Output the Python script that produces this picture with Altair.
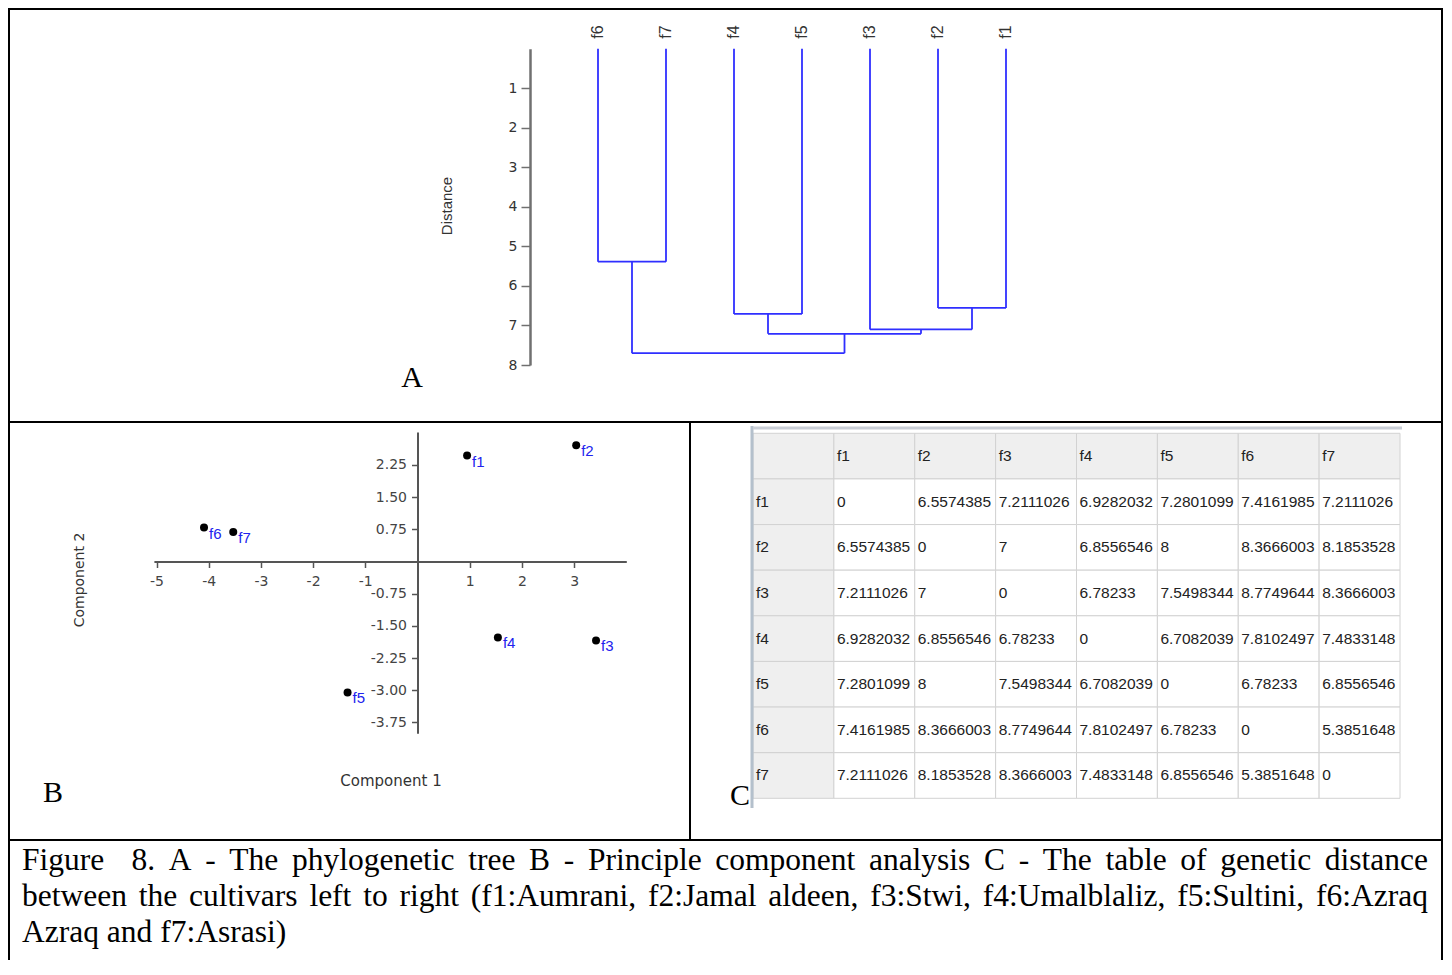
import altair as alt
import pandas as pd

# ---------------- data ----------------
# A: dendrogram (leaf order left to right, merges with their heights)
leaf_order = ["f6", "f7", "f4", "f5", "f3", "f2", "f1"]
merge_a = ["f6", "f4", "f2", "f3", "n2", "n1"]
merge_b = ["f7", "f5", "f1", "n3", "n4", "n5"]
merge_h = [5.385, 6.708, 6.557, 7.10, 7.21, 7.70]
dist_ticks = [1, 2, 3, 4, 5, 6, 7, 8]

# B: principal component analysis
pca_names = ["f1", "f2", "f3", "f4", "f5", "f6", "f7"]
pca_comp1 = [0.95, 3.04, 3.42, 1.54, -1.34, -4.09, -3.53]
pca_comp2 = [2.47, 2.71, -1.84, -1.77, -3.05, 0.79, 0.69]
pca_xticks = [-5, -4, -3, -2, -1, 1, 2, 3]
pca_yticks = [2.25, 1.50, 0.75, -0.75, -1.50, -2.25, -3.00, -3.75]

# C: genetic distance table
table_names = ["f1", "f2", "f3", "f4", "f5", "f6", "f7"]
dist_f1 = [0, 6.5574385, 7.2111026, 6.9282032, 7.2801099, 7.4161985, 7.2111026]
dist_f2 = [6.5574385, 0, 7, 6.8556546, 8, 8.3666003, 8.1853528]
dist_f3 = [7.2111026, 7, 0, 6.78233, 7.5498344, 8.7749644, 8.3666003]
dist_f4 = [6.9282032, 6.8556546, 6.78233, 0, 6.7082039, 7.8102497, 7.4833148]
dist_f5 = [7.2801099, 8, 7.5498344, 6.7082039, 0, 6.78233, 6.8556546]
dist_f6 = [7.4161985, 8.3666003, 8.7749644, 7.8102497, 6.78233, 0, 5.3851648]
dist_f7 = [7.2111026, 8.1853528, 8.3666003, 7.4833148, 6.8556546, 5.3851648, 0]

caption_lines = [
    "Figure  8. A - The phylogenetic tree B - Principle component analysis C - The table of genetic distance",
    "between the cultivars left to right (f1:Aumrani, f2:Jamal aldeen, f3:Stwi, f4:Umalblaliz, f5:Sultini, f6:Azraq",
    "Azraq and f7:Asrasi)",
]
panel_letters = ["A", "B", "C"]

# ---------------- layout ----------------
W, H = 1436, 952
OX, OY = 8, 8


def px(x):
    return x - OX


def py(y):
    return y - OY


SANS = "DejaVu Sans, Verdana, sans-serif"
SANS2 = "Liberation Sans, Arial, sans-serif"
SERIF = "Liberation Serif, Times New Roman, serif"
ONE = pd.DataFrame({"k": [0]})
MINUS_FIX = "replace(datum.label, '\u2212', '-')"

layers = []


def rule(x1, y1, x2, y2, color="black", w=2.0):
    return alt.Chart(ONE).mark_rule(color=color, strokeWidth=w).encode(
        x=alt.value(px(x1)), y=alt.value(py(y1)),
        x2=alt.value(px(x2)), y2=alt.value(py(y2)))


def label(text, x, y, size, font, color="black", angle=0, align="center", baseline="middle"):
    kw = dict(text=text, fontSize=size, font=font, color=color, align=align, baseline=baseline)
    if angle:
        kw["angle"] = angle
    return alt.Chart(ONE).mark_text(**kw).encode(x=alt.value(px(x)), y=alt.value(py(y)))


# ---------------- A: dendrogram ----------------
dx_scale = alt.Scale(domain=[0, 6], range=[px(598), px(1006)])
dy_scale = alt.Scale(domain=[0, 8], range=[py(48.8), py(365)])

pos = {name: (i, 0.0) for i, name in enumerate(leaf_order)}
segs = []
for k, (a, b, h) in enumerate(zip(merge_a, merge_b, merge_h)):
    xa, ha = pos[a]
    xb, hb = pos[b]
    segs.append(dict(x=xa, x2=xa, y=ha, y2=h))
    segs.append(dict(x=xb, x2=xb, y=hb, y2=h))
    segs.append(dict(x=xa, x2=xb, y=h, y2=h))
    pos[f"n{k + 1}"] = ((xa + xb) / 2, h)
seg_df = pd.DataFrame(segs)

links = alt.Chart(seg_df).mark_rule(color="#2f2fff", strokeWidth=1.8).encode(
    x=alt.X("x:Q", scale=dx_scale, axis=None),
    x2="x2:Q",
    y=alt.Y("y:Q", scale=dy_scale, axis=alt.Axis(
        orient="left", offset=-px(530), values=dist_ticks, title=None, grid=False,
        domainColor="#707070", domainWidth=2.5, tickColor="#707070", tickWidth=1.5,
        tickSize=9, labelPadding=4, labelFont=SANS, labelFontSize=14, labelColor="#333",
        labelFlush=False, labelOverlap=False)),
    y2="y2:Q",
)
layers.append(links)

leaf_df = pd.DataFrame({"leaf": leaf_order, "i": list(range(len(leaf_order)))})
leaf_text = alt.Chart(leaf_df).mark_text(angle=270, fontSize=16, font=SANS2, color="#333").encode(
    x=alt.X("i:Q", scale=dx_scale, axis=None), y=alt.value(py(32)), text="leaf:N")
layers.append(leaf_text)
layers.append(label("Distance", 447, 206, 15, SANS2, color="#333", angle=270))
layers.append(label(panel_letters[0], 412, 378, 30, SERIF))

# ---------------- B: PCA ----------------
pca_x = alt.Scale(domain=[-5.05, 4.0], range=[px(153.9), px(626.3)])
pca_y = alt.Scale(domain=[-4.0, 3.02], range=[py(733.2), py(431.9)])
pca_df = pd.DataFrame({"name": pca_names, "c1": pca_comp1, "c2": pca_comp2})

ax_common = dict(title=None, grid=False, domainColor="#555", domainWidth=2,
                 tickColor="#555", tickWidth=1.5, tickSize=6, labelFont=SANS,
                 labelFontSize=14, labelColor="#444", labelFlush=False, labelOverlap=False,
                 labelExpr=MINUS_FIX)

pts = alt.Chart(pca_df).mark_circle(size=64, color="black", opacity=1).encode(
    x=alt.X("c1:Q", scale=pca_x, axis=alt.Axis(
        orient="bottom", offset=py(561.5) - H, values=pca_xticks, labelPadding=7, **ax_common)),
    y=alt.Y("c2:Q", scale=pca_y, axis=alt.Axis(
        orient="left", offset=-px(417.5), values=pca_yticks, format=".2f", labelPadding=5,
        **ax_common)),
)
layers.append(pts)
pts_lab = alt.Chart(pca_df).mark_text(align="left", baseline="middle", dx=5, dy=6,
                                      fontSize=15, font=SANS2, color="#2222ee").encode(
    x=alt.X("c1:Q", scale=pca_x, axis=None),
    y=alt.Y("c2:Q", scale=pca_y, axis=None),
    text="name:N")
layers.append(pts_lab)
layers.append(label("Component 1", 391, 781, 15, SANS, color="#333"))
layers.append(label("Component 2", 80, 580, 14, SANS, color="#333", angle=270))
layers.append(label(panel_letters[1], 53, 793, 30, SERIF))

# ---------------- C: table ----------------
layers.append(label(panel_letters[2], 740, 796, 30, SERIF))
tx = alt.Scale(domain=[0, 8], range=[px(753), px(1400)])
ty = alt.Scale(domain=[0, 8], range=[py(433.3), py(798.3)])
dist_rows = [dist_f1, dist_f2, dist_f3, dist_f4, dist_f5, dist_f6, dist_f7]


def fmt(v):
    s = f"{v:.7f}".rstrip("0").rstrip(".")
    return s if s else "0"


cells = []
for r in range(8):
    for c in range(8):
        if r == 0 and c == 0:
            t = ""
        elif r == 0:
            t = table_names[c - 1]
        elif c == 0:
            t = table_names[r - 1]
        else:
            t = fmt(dist_rows[r - 1][c - 1])
        cells.append(dict(c=c, c2=c + 1, r=r, r2=r + 1, rm=r + 0.5, t=t,
                          hdr=1 if (r == 0 or c == 0) else 0))
cell_df = pd.DataFrame(cells)

rects = alt.Chart(cell_df).mark_rect(stroke="#d2d2d2", strokeWidth=1).encode(
    x=alt.X("c:Q", scale=tx, axis=None), x2="c2:Q",
    y=alt.Y("r:Q", scale=ty, axis=None), y2="r2:Q",
    color=alt.condition(alt.datum.hdr == 1, alt.value("#efefef"), alt.value("white")),
)
layers.append(rects)
ctext = alt.Chart(cell_df).mark_text(align="left", baseline="middle", dx=3, fontSize=15.5,
                                     font=SANS2, color="#222").encode(
    x=alt.X("c:Q", scale=tx, axis=None),
    y=alt.Y("rm:Q", scale=ty, axis=None),
    text="t:N")
layers.append(ctext)
# table frame / window edge
layers.append(rule(752, 426, 752, 808, color="#b4c0cc", w=3))
layers.append(rule(753, 428, 1402, 428, color="#c9ced6", w=3))

# ---------------- borders ----------------
layers.append(rule(8, 9, 1443, 9))
layers.append(rule(9, 8, 9, 975))
layers.append(rule(1442, 8, 1442, 975))
layers.append(rule(8, 422, 1443, 422))
layers.append(rule(690, 422, 690, 840))
layers.append(rule(8, 840, 1443, 840))

# ---------------- caption (justified like the original) ----------------
TNR = {" ": 250, "(": 333, ")": 333, ",": 250, "-": 333, ".": 250, ":": 278,
       "A": 722, "B": 667, "C": 667, "F": 556, "J": 389, "P": 556, "S": 556, "T": 611,
       "U": 722, "a": 444, "b": 500, "c": 444, "d": 500, "e": 444, "f": 333, "g": 500,
       "h": 500, "i": 278, "j": 278, "k": 500, "l": 278, "m": 778, "n": 500, "o": 500,
       "p": 500, "q": 500, "r": 333, "s": 389, "t": 278, "u": 500, "v": 500, "w": 722,
       "x": 500, "y": 500, "z": 444}
FS = 31.5
CAP_L, CAP_R = 22, 1428
bases = [870, 906, 942]
justify = [True, True, False]


def tw(s):
    return sum(TNR.get(ch, 500) for ch in s) * FS / 1000


cap_rows = []
for line, base, just in zip(caption_lines, bases, justify):
    words = line.split(" ")
    nsp = len(words) - 1
    extra = (CAP_R - CAP_L - tw(line)) / nsp if just else 0
    x = CAP_L
    for w in words:
        if w:
            cap_rows.append(dict(t=w, x=px(x), y=py(base)))
        x += tw(w) + TNR[" "] * FS / 1000 + extra
cap_df = pd.DataFrame(cap_rows)
caption = alt.Chart(cap_df).mark_text(align="left", baseline="alphabetic", fontSize=FS,
                                      font=SERIF, color="black").encode(
    x=alt.X("x:Q", scale=None, axis=None), y=alt.Y("y:Q", scale=None, axis=None), text="t:N")
layers.append(caption)

chart = alt.layer(*layers).resolve_scale(x="independent", y="independent").properties(
    width=W, height=H, padding=0, autosize=alt.AutoSizeParams(type="none")
).configure_view(stroke=None)

chart.save("out.html", embed_options={"renderer": "svg", "actions": False})
